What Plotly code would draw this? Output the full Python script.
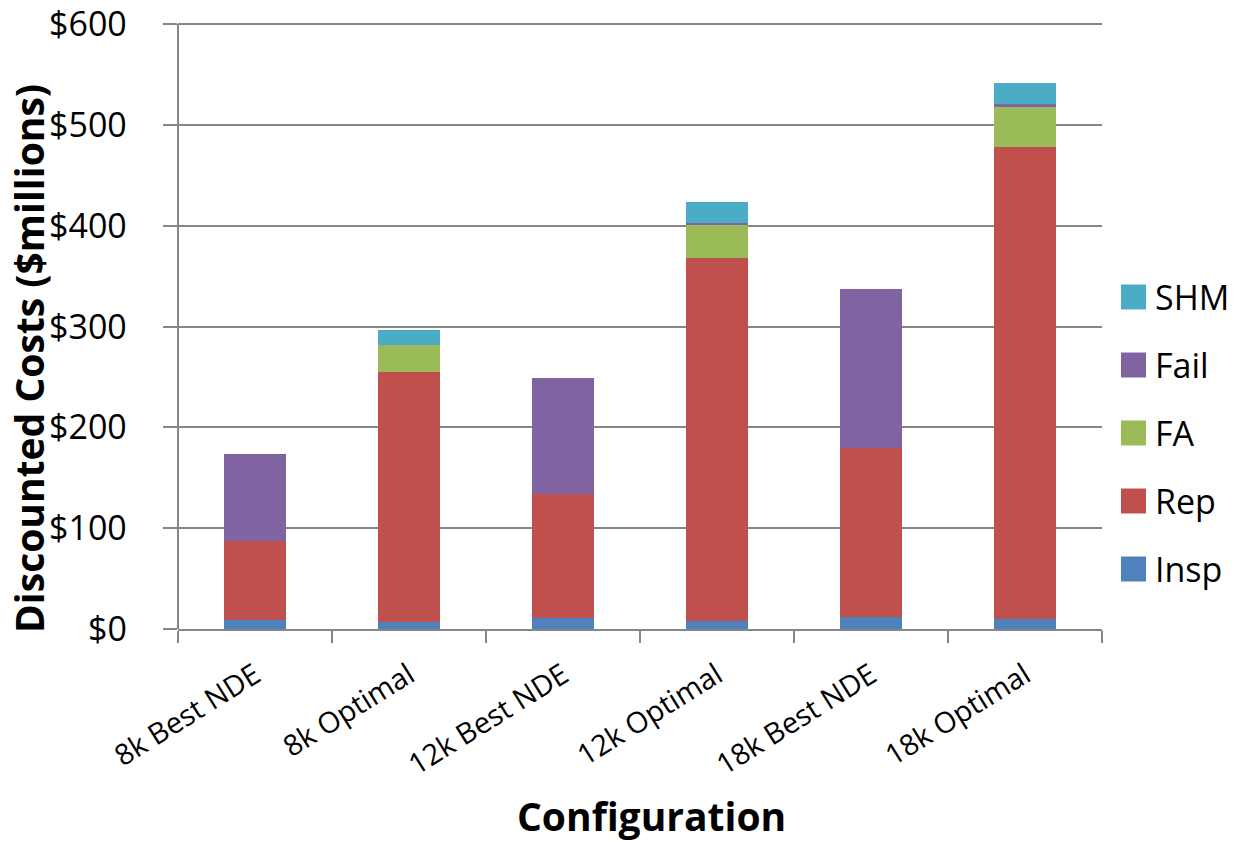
import plotly.graph_objects as go

# Discounted cost breakdown per configuration ($ millions)
configurations = ["8k Best NDE", "8k Optimal", "12k Best NDE", "12k Optimal", "18k Best NDE", "18k Optimal"]
insp = [8.5, 6.5, 10.5, 8.3, 11.5, 10.0]
rep = [79.0, 248.5, 123.0, 359.7, 168.2, 468.0]
fa = [0.0, 27.0, 0.0, 33.6, 0.0, 40.0]
fail = [86.5, 0.0, 115.3, 1.5, 158.0, 2.5]
shm = [0.0, 15.0, 0.0, 20.0, 0.0, 21.0]

y_ticks = [0, 100, 200, 300, 400, 500, 600]
y_tick_labels = ["$0", "$100", "$200", "$300", "$400", "$500", "$600"]

series = [
    ("Insp", insp, "#4F81BD"),
    ("Rep", rep, "#C0504D"),
    ("FA", fa, "#9BBB59"),
    ("Fail", fail, "#8064A2"),
    ("SHM", shm, "#4BACC6"),
]

FONT = "Open Sans"
Y_MAX = 606

fig = go.Figure()
for name, values, color in series:
    fig.add_trace(go.Bar(
        x=configurations, y=values, name=name,
        marker=dict(color=color, line=dict(width=0)),
        showlegend=False,
    ))

W, H = 1244, 841
# axis base at y=629 px, $600 at y=24 px
L, R, B = 178, 142, 212
T = round((H - B) - 605 * Y_MAX / 600)
plot_w, plot_h = W - L - R, H - T - B

def px_x(x):
    return (x - L) / plot_w

def px_y(y):
    return (H - B - y) / plot_h

# Hand-built legend (top entry is the last series in the stack)
shapes = []
annotations = []
legend_rows = [297, 365, 433, 501, 569]
for (name, _, color), yc in zip(reversed(series), legend_rows):
    shapes.append(dict(
        type="rect", xref="paper", yref="paper",
        x0=px_x(1121), x1=px_x(1146), y0=px_y(yc + 12.5), y1=px_y(yc - 12.5),
        fillcolor=color, line=dict(width=0),
    ))
    annotations.append(dict(
        text=name, xref="paper", yref="paper", x=px_x(1153), y=px_y(yc),
        xanchor="left", yanchor="middle", showarrow=False,
        font=dict(family=FONT, size=34, color="black"),
    ))

# y tick labels, right-aligned well left of the tick marks
for val, label in zip(y_ticks, y_tick_labels):
    annotations.append(dict(
        text=label, xref="paper", yref="y", x=px_x(128), y=val,
        xanchor="right", yanchor="middle", showarrow=False, yshift=1,
        borderpad=0,
        font=dict(family=FONT, size=34, color="black"),
    ))

annotations.append(dict(
    text="<b>Configuration</b>", xref="paper", yref="paper",
    x=px_x(651), y=px_y(815), xanchor="center", yanchor="middle", showarrow=False,
    font=dict(family=FONT, size=39, color="black"),
))
annotations.append(dict(
    text="<b>Discounted Costs ($millions)</b>", xref="paper", yref="paper",
    x=px_x(29), y=px_y(359), xanchor="center", yanchor="middle", showarrow=False,
    textangle=-90, font=dict(family=FONT, size=39, color="black"),
))

fig.update_layout(
    barmode="stack",
    bargap=0.6,
    width=W, height=H,
    margin=dict(l=L, r=R, t=T, b=B, autoexpand=False),
    paper_bgcolor="white", plot_bgcolor="white",
    font=dict(family=FONT, color="black"),
    shapes=shapes,
    annotations=annotations,
)
fig.update_xaxes(
    showline=True, linecolor="#868686", linewidth=2,
    ticks="outside", ticklen=12, tickcolor="#868686", tickwidth=2,
    tickson="boundaries", tickangle=-32, ticklabelstandoff=16,
    tickfont=dict(family=FONT, size=29, color="black"),
    showgrid=False,
)
fig.update_yaxes(
    range=[0, Y_MAX], tickvals=y_ticks,
    showticklabels=False,
    showline=False,
    ticks="outside", ticklen=14, tickcolor="#868686", tickwidth=2,
    showgrid=True, gridcolor="#868686", gridwidth=2,
    zeroline=False,
)
# left axis line running from $0 up to $600
fig.add_shape(type="line", xref="paper", yref="y", x0=0, x1=0, y0=0, y1=600,
              line=dict(color="#868686", width=2))

fig.write_html("out.html")
